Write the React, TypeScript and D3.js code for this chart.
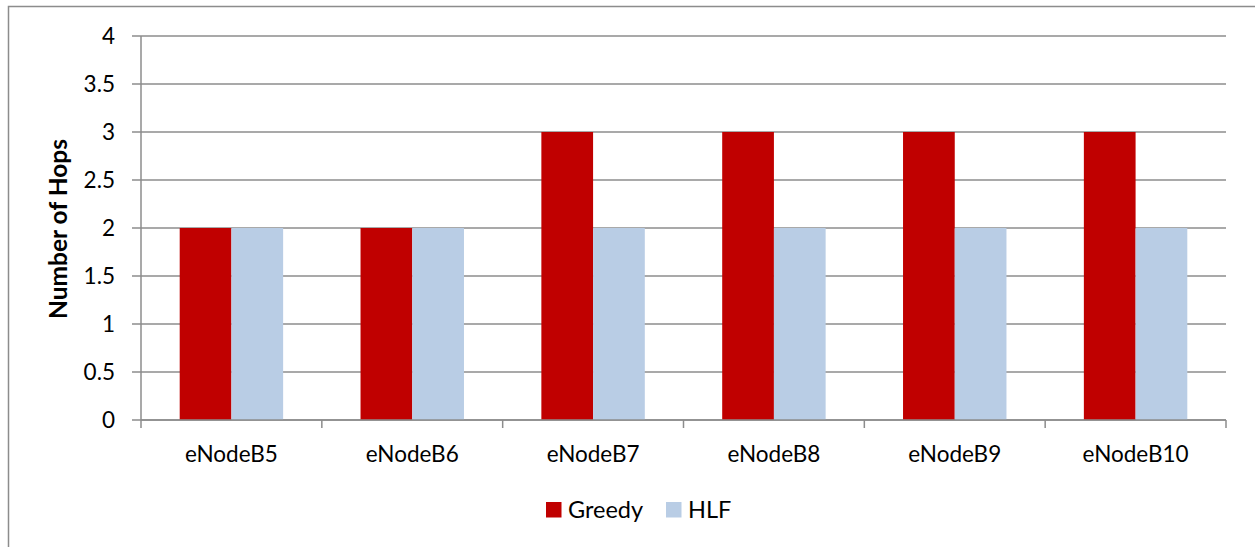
import React from "react";
import * as d3 from "d3";

const categories = ["eNodeB5", "eNodeB6", "eNodeB7", "eNodeB8", "eNodeB9", "eNodeB10"];
const greedy = [2, 2, 3, 3, 3, 3];
const hlf = [2, 2, 2, 2, 2, 2];
const yTicks = [0, 0.5, 1, 1.5, 2, 2.5, 3, 3.5, 4];
const seriesNames = ["Greedy", "HLF"];
const colors = ["#C00000", "#B9CDE5"];

export default function App() {
  const W = 1255, H = 547;
  const left = 141, right = 1226, top = 36, bottom = 420;
  const x = d3.scaleBand<string>().domain(categories).range([left, right]).paddingInner(0).paddingOuter(0);
  const y = d3.scaleLinear().domain([0, 4]).range([bottom, top]);
  const bw = x.bandwidth();
  const barW = bw * 0.286;
  const font = "Lato, 'Open Sans', sans-serif";
  const grid = "#8c8c8c";
  return (
    <svg width={W} height={H} style={{ position: "absolute", left: 0, top: 0 }}>
      <rect x={0} y={0} width={W} height={H} fill="#fff" />
      <rect x={8.5} y={6.5} width={W + 10} height={H + 10} fill="none" stroke="#8c8c8c" strokeWidth={1.5} />
      {yTicks.map((t) => (
        <g key={t}>
          <line x1={left} x2={right} y1={y(t)} y2={y(t)} stroke={grid} strokeWidth={1.5} />
          <line x1={132} x2={left} y1={y(t)} y2={y(t)} stroke={grid} strokeWidth={1.5} />
          <text x={115} y={y(t)} dy="0.35em" textAnchor="end" fontFamily={font} fontSize={22.5} fill="#000">{t}</text>
        </g>
      ))}
      <line x1={left} x2={left} y1={top} y2={bottom} stroke={grid} strokeWidth={1.5} />
      {categories.map((c, i) => {
        const cx = x(c)! + bw / 2;
        return (
          <g key={c}>
            <rect x={cx - barW} y={y(greedy[i])} width={barW} height={bottom - y(greedy[i])} fill={colors[0]} />
            <rect x={cx} y={y(hlf[i])} width={barW} height={bottom - y(hlf[i])} fill={colors[1]} />
            <text x={cx} y={462} textAnchor="middle" fontFamily={font} fontSize={22.5} fill="#000">{c}</text>
          </g>
        );
      })}
      {[...categories.map((c) => x(c)!), right].map((v, i) => (
        <line key={i} x1={v} x2={v} y1={bottom} y2={bottom + 8} stroke={grid} strokeWidth={1.5} />
      ))}
      <line x1={left} x2={right} y1={bottom} y2={bottom} stroke={grid} strokeWidth={1.5} />
      <text transform={`translate(67,${(top + bottom) / 2 + 1}) rotate(-90)`} textAnchor="middle" fontFamily={font} fontSize={24.5} fontWeight="bold" fill="#000">Number of Hops</text>
      {seriesNames.map((s, i) => {
        const lx = [546, 666][i];
        return (
          <g key={s}>
            <rect x={lx} y={502} width={15.5} height={15.5} fill={colors[i]} />
            <text x={lx + 22} y={518} fontFamily={font} fontSize={23.5} fill="#000">{s}</text>
          </g>
        );
      })}
    </svg>
  );
}
